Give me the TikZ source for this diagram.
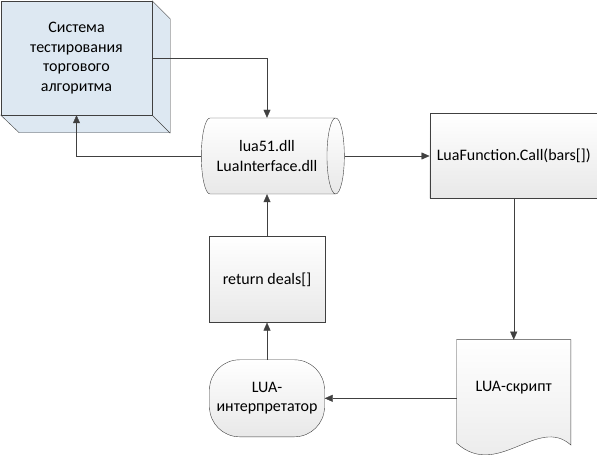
\documentclass[tikz,border=0pt]{standalone}
\usepackage{fontspec}
\setmainfont{Carlito}
\usetikzlibrary{positioning,arrows.meta,shapes.geometric,backgrounds,calc}
\definecolor{cubeblue}{RGB}{221,232,242}
\definecolor{lineclr}{RGB}{64,64,64}
\tikzstyle{gbox}=[rectangle, draw=lineclr, top color=white, bottom color=black!9, thin, minimum width=116pt, minimum height=86pt, inner sep=2pt, text centered]
\tikzstyle{cbox}=[rectangle, draw=lineclr, fill=cubeblue, thin, minimum width=151pt, minimum height=114pt, inner sep=2pt, align=center]
\tikzstyle{dllbox}=[cylinder, draw=lineclr, top color=white, bottom color=black!9, thin, aspect=0.5, minimum width=76pt, minimum height=143pt, inner sep=2pt, align=center]
\tikzstyle{termbox}=[rectangle, rounded corners=30pt, draw=lineclr, top color=white, bottom color=black!9, thin, minimum width=115pt, minimum height=77pt, inner sep=2pt, align=center]
\tikzstyle{docbox}=[rectangle, minimum width=114pt, minimum height=96pt, inner sep=2pt, text centered]
\tikzstyle{pline}=[-{Triangle[length=8pt,width=7pt]}, thin, draw=lineclr]

\begin{document}
\begin{tikzpicture}[x=1pt,y=1pt,node distance=0mm,font=\fontsize{16}{19.5}\selectfont]
\useasboundingbox (0,0) rectangle (597,457);
\node (SYS) [cbox] at (76.5,399) {Система\\тестирования\\торгового\\алгоритма};
\node (DLL) [dllbox] at (267,301) {lua51.dll\\LuaInterface.dll};
\node (CALL) [gbox,right=85pt of DLL,minimum width=168pt,minimum height=85pt] {LuaFunction.Call(bars[])};
\node (RET) [gbox,below=42pt of DLL] {return deals[]};
\node (INTERP) [termbox,below=37pt of RET] {LUA-\\интерпретатор};
\node (SCRIPT) [docbox,below=141pt of CALL] {LUA-скрипт};
\begin{scope}[on background layer]
 \draw[lineclr, thin, fill=cubeblue] (SYS.north east) -- ++(18,-18) -- ++(0,-114) -- ++(-151,0) -- (SYS.south west) -- (SYS.south east) -- cycle;
 \draw[lineclr, thin] (SYS.south east) -- ++(18,-18);
 \draw[lineclr, thin, top color=white, bottom color=black!9] (SCRIPT.north west) -- (SCRIPT.north east) -- ($(SCRIPT.south east)+(0,-9)$)
   .. controls ($(SCRIPT.south)+(24,21)$) and ($(SCRIPT.south)+(-16,-44)$) .. ($(SCRIPT.south west)+(0,-7)$) -- cycle;
\end{scope}
 \draw[pline]   (SYS.east) -| (DLL.north -| RET) ;
 \draw[pline]   (DLL.west) -| (SYS.south) ;
 \draw[pline]   (DLL.east) -- (CALL.west) ;
 \draw[pline]   (CALL.south) -- (SCRIPT.north) ;
 \draw[pline]   (INTERP.east -| SCRIPT.west) -- (INTERP.east) ;
 \draw[pline]   (INTERP.north) -- (RET.south) ;
 \draw[pline]   (RET.north) -- (RET.north |- DLL.south) ;
\end{tikzpicture}
\end{document}
